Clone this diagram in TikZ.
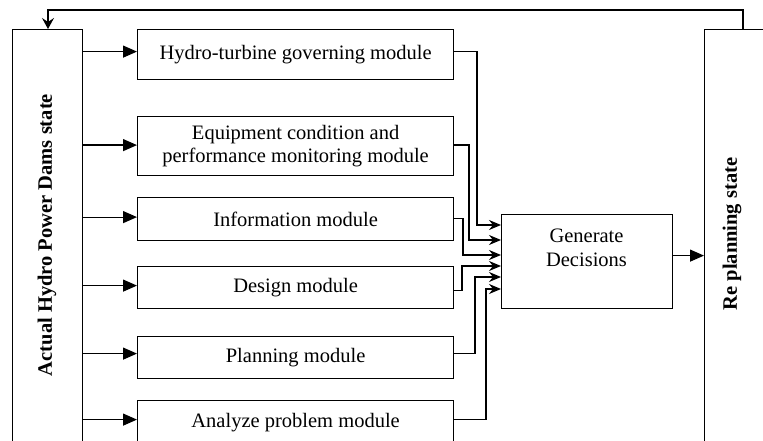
\documentclass[tikz,border=0pt]{standalone}
\usepackage{fontspec}
\setmainfont{Liberation Serif}
\usetikzlibrary{arrows.meta,calc}
\begin{document}
\begin{tikzpicture}[x=1pt,y=-1pt,line width=1.2pt,
  font=\fontsize{20.5}{24}\selectfont,
  modbox/.style={draw,minimum width=316pt,inner sep=0pt,anchor=north west,align=center},
  statebox/.style={draw,anchor=north west,inner sep=0pt,minimum width=70pt,minimum height=440pt},
  statetext/.style={rotate=90,font=\fontsize{20.5}{24}\selectfont\bfseries},
  tri/.style={-{Triangle[length=14pt,width=12pt]}},
  stl/.style={-{Stealth[length=12pt,width=10pt,inset=4pt]}},
  fb/.style={-{Stealth[length=11pt,width=12pt,inset=4pt]}}]
\clip (0,0) rectangle (763,441);
% state boxes
\node[statebox] (lb) at (12,29) {};
\node[statetext] (lbt) at (47,235) {Actual Hydro Power Dams state};
\node[statebox] (rb) at (704,29) {};
\node[statetext] (rbt) at (732,234) {Re planning state};
% modules
\node[modbox,minimum height=50pt] (m1) at (137,29) {Hydro-turbine governing module};
\node[modbox,minimum height=59pt] (m2) at (137,116) {Equipment condition and\\performance monitoring module};
\node[modbox,minimum height=43pt] (m3) at (137,197) {Information module};
\node[modbox,minimum height=42pt] (m4) at (137,266) {Design module};
\node[modbox,minimum height=42pt] (m5) at (137,336) {Planning module};
\node[modbox,minimum height=44pt] (m6) at (137,400) {Analyze problem module};
% generate decisions
\node[draw,anchor=north west,minimum width=171pt,minimum height=94pt,inner sep=0pt] (gd) at (501,214) {};
\node[align=center] (gdt) at (586.5,248) {Generate\\Decisions};
% arrows from left box
\coordinate (a1) at ([yshift=3pt]m1.west);
\coordinate (a2) at ([yshift=1pt]m2.west);
\coordinate (a3) at ([yshift=2pt]m3.west);
\coordinate (a4) at ([yshift=2pt]m4.west);
\coordinate (a5) at ([yshift=4pt]m5.west);
\coordinate (a6) at ([yshift=3pt]m6.west);
\foreach \a in {a1,a2,a3,a4,a5,a6}{\draw[tri] (lb.east |- \a) -- (\a);}
% inputs to generate decisions
\coordinate (in1) at ($(gd.north west)+(0,11)$);
\coordinate (in2) at ($(gd.north west)+(0,26)$);
\coordinate (in3) at ($(gd.north west)+(0,41)$);
\coordinate (in4) at ($(gd.north west)+(0,52)$);
\coordinate (in5) at ($(gd.north west)+(0,63)$);
\coordinate (in6) at ($(gd.north west)+(0,75)$);
\draw[stl] ([yshift=3pt]m1.east) -| ($(in1)+(-24,0)$) -- (in1);
\draw[stl] ([yshift=1pt]m2.east) -| ($(in2)+(-32,0)$) -- (in2);
\draw[stl] ([yshift=1pt]m3.east) -| ($(in3)+(-38,0)$) -- (in3);
\draw[stl] ([yshift=-3pt]m4.east) -| ($(in4)+(-39,0)$) -- (in4);
\draw[stl] ([yshift=4pt]m5.east) -| ($(in5)+(-26,0)$) -- (in5);
\draw[stl] ([yshift=3pt]m6.east) -| ($(in6)+(-15,0)$) -- (in6);
% output
\coordinate (o) at ([yshift=6pt]gd.east);
\draw[tri] (o) -- (rb.west |- o);
% feedback
\draw[fb] ($(rb.north west)+(39,0)$) -- ++(0,-19) -| ($(lb.north west)+(36,0)$);
\end{tikzpicture}
\end{document}
